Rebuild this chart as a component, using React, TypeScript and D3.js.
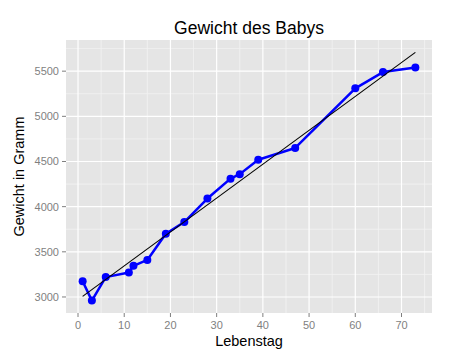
import * as d3 from 'd3';

// Lebenstag / Gewicht in Gramm
const days = [1, 3, 6, 11, 12, 15, 19, 23, 28, 33, 35, 39, 47, 60, 66, 73];
const weights = [3175, 2960, 3220, 3270, 3345, 3410, 3700, 3830, 4090, 4310, 4360, 4520, 4650, 5310, 5490, 5540];
const xTicks = [0, 10, 20, 30, 40, 50, 60, 70];
const yTicks = [3000, 3500, 4000, 4500, 5000, 5500];
const xMinor = [5, 15, 25, 35, 45, 55, 65, 75];
const yMinor = [3250, 3750, 4250, 4750, 5250, 5750];

const W = 450;
const H = 360;
const m = { left: 66, right: 18, top: 40, bottom: 47 };
const font = '"Liberation Sans", Arial, Helvetica, sans-serif';

export default function App() {
  const data = days.map((d, i) => [d, weights[i]] as [number, number]);

  // lineare Regression wie geom_smooth(method = "lm")
  const mx = d3.mean(days)!;
  const my = d3.mean(weights)!;
  const slope = d3.sum(data, d => (d[0] - mx) * (d[1] - my)) / d3.sum(days, d => (d - mx) ** 2);
  const icpt = my - slope * mx;
  const x0 = d3.min(days)!;
  const x1 = d3.max(days)!;
  const fit: [number, number][] = [[x0, icpt + slope * x0], [x1, icpt + slope * x1]];

  const allY = weights.concat(fit.map(f => f[1]));
  const yMin = d3.min(allY)!;
  const yMax = d3.max(allY)!;
  const xPad = (x1 - x0) * 0.05;
  const yPad = (yMax - yMin) * 0.05;

  const x = d3.scaleLinear().domain([x0 - xPad, x1 + xPad]).range([m.left, W - m.right]);
  const y = d3.scaleLinear().domain([yMin - yPad, yMax + yPad]).range([H - m.bottom, m.top]);

  const line = d3.line<[number, number]>().x(d => x(d[0])).y(d => y(d[1]));

  const pl = m.left, pr = W - m.right, pt = m.top, pb = H - m.bottom;

  return (
    <svg width={W} height={H} style={{ position: 'absolute', left: 0, top: 0, background: 'white' }}>
      <rect x={pl} y={pt} width={pr - pl} height={pb - pt} fill="#E5E5E5" />
      {xMinor.filter(v => x(v) < pr).map(v => (
        <line key={'xm' + v} x1={x(v)} x2={x(v)} y1={pt} y2={pb} stroke="#F2F2F2" strokeWidth={0.8} />
      ))}
      {yMinor.filter(v => y(v) > pt).map(v => (
        <line key={'ym' + v} x1={pl} x2={pr} y1={y(v)} y2={y(v)} stroke="#F2F2F2" strokeWidth={0.8} />
      ))}
      {xTicks.map(v => (
        <line key={'xg' + v} x1={x(v)} x2={x(v)} y1={pt} y2={pb} stroke="white" strokeWidth={1.2} />
      ))}
      {yTicks.map(v => (
        <line key={'yg' + v} x1={pl} x2={pr} y1={y(v)} y2={y(v)} stroke="white" strokeWidth={1.2} />
      ))}

      <path d={line(data)!} fill="none" stroke="#0000FF" strokeWidth={2.5} strokeLinejoin="round" />
      {data.map((d, i) => (
        <circle key={i} cx={x(d[0])} cy={y(d[1])} r={4} fill="#0000FF" />
      ))}
      <path d={line(fit)!} fill="none" stroke="black" strokeWidth={1.1} />

      {xTicks.map(v => (
        <g key={'xt' + v}>
          <line x1={x(v)} x2={x(v)} y1={pb} y2={pb + 4} stroke="#7F7F7F" strokeWidth={1} />
          <text x={x(v)} y={pb + 16} textAnchor="middle" fontFamily={font} fontSize={11} fill="#7F7F7F">{v}</text>
        </g>
      ))}
      {yTicks.map(v => (
        <g key={'yt' + v}>
          <line x1={pl - 4} x2={pl} y1={y(v)} y2={y(v)} stroke="#7F7F7F" strokeWidth={1} />
          <text x={pl - 7} y={y(v) + 4} textAnchor="end" fontFamily={font} fontSize={11} fill="#7F7F7F">{v}</text>
        </g>
      ))}

      <text x={(pl + pr) / 2} y={34} textAnchor="middle" fontFamily={font} fontSize={17.5} fill="black">Gewicht des Babys</text>
      <text x={(pl + pr) / 2} y={346} textAnchor="middle" fontFamily={font} fontSize={14.5} fill="black">Lebenstag</text>
      <text transform={`translate(24,${(pt + pb) / 2}) rotate(-90)`} textAnchor="middle" fontFamily={font} fontSize={14.5} fill="black">Gewicht in Gramm</text>
    </svg>
  );
}
